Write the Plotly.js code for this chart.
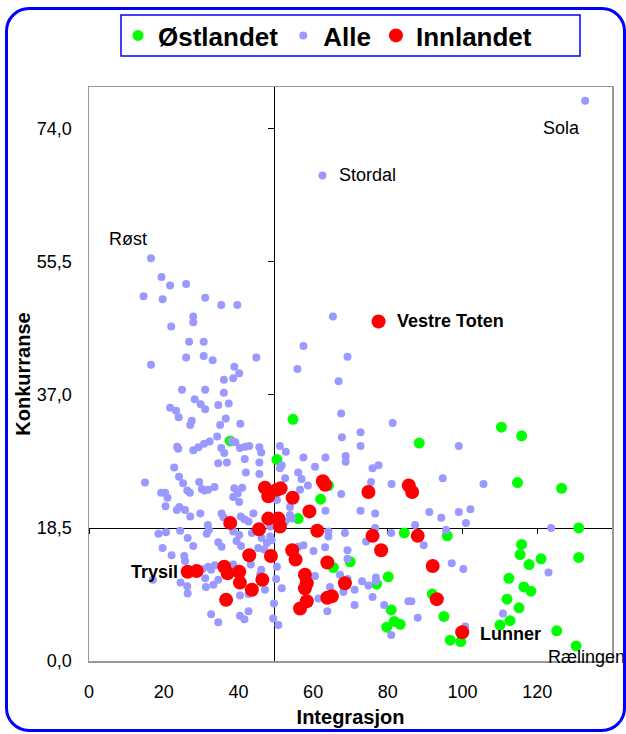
<!DOCTYPE html>
<html><head><meta charset="utf-8">
<script src="https://cdn.plot.ly/plotly-3.0.1.min.js"></script>
<style>
html,body{margin:0;padding:0;background:#fff;overflow:hidden}
#chart{width:626px;height:734px;position:absolute;left:0;top:0}
#frame{position:absolute;left:5px;top:7px;width:621px;height:725px;box-sizing:border-box;border:3px solid #0000ff;border-radius:24px;pointer-events:none}
</style></head><body>
<div id="chart"></div><div id="frame"></div>
<script>
// ---- data ----
const seriesNames = ['Østlandet', 'Alle', 'Innlandet'];

// Østlandet (first point: Rælingen)
const ostX = [130.4, 110.4, 115.8, 88.4, 114.7, 126.5, 84.4, 95.9, 131.1, 115.8, 115.4, 121.0, 117.8, 131.1, 69.9, 80.1, 77.0, 112.4, 116.4, 118.3, 91.9, 111.9, 115.1, 80.9, 95.0, 81.7, 83.3, 79.7, 112.7, 110.0, 125.2, 96.7, 99.5,
  54.6, 37.8, 50.3, 62.0, 64.1, 56.0, 65.4];
const ostY = [2.1, 32.5, 31.3, 30.3, 24.8, 24.0, 17.8, 17.4, 18.5, 16.2, 14.8, 14.2, 13.4, 14.4, 13.8, 11.7, 10.7, 11.5, 10.3, 9.7, 9.3, 8.6, 7.4, 7.1, 6.2, 5.5, 5.1, 4.7, 5.6, 5.0, 4.2, 2.9, 2.7,
  33.6, 30.6, 28.0, 22.5, 24.4, 19.8, 13.0];

// Alle (first points: Sola, Stordal, Røst)
const alleX = [132.8, 62.5, 16.6, 78.3, 69.2, 66.8,
  19.4, 21.7, 26.0, 14.6, 19.7, 31.1, 35.4, 39.7,
  27.9, 27.9, 22.0, 65.3, 26.8, 30.7, 57.4, 16.6, 26.0, 30.7, 33.1, 44.8, 38.9, 40.2, 38.6, 36.1, 55.8,
  24.9, 31.1, 36.1, 28.3, 29.9, 31.1, 34.6, 37.4, 21.7, 23.3, 24.0, 27.5, 27.1, 36.6, 35.1, 40.5, 67.5,
  34.3, 23.6, 23.9, 27.9, 29.3, 30.8, 32.3, 35.4, 36.2, 38.2, 39.2, 40.4, 41.8, 42.9, 45.6, 46.1, 51.1, 52.7, 67.7,
  34.6, 36.9, 41.7, 45.6, 22.8, 24.1, 25.2, 27.0, 29.5, 30.2, 30.9, 31.9, 33.6, 26.3, 15.0, 19.3, 20.4, 21.0, 20.5,
  24.2, 23.5, 25.7, 27.1, 29.8, 42.0, 45.6, 38.9, 39.8, 41.0, 38.6, 40.2, 35.5, 36.0, 40.6, 44.0, 50.3, 52.5, 51.1,
  51.6, 57.4, 60.5, 63.3, 56.0, 56.9, 58.6, 53.8, 53.8, 56.5, 63.3,
  81.3, 72.7, 72.7, 99.0, 68.7, 68.7, 77.5, 75.9, 94.7, 75.5, 81.0, 105.6, 67.5, 72.7, 76.6, 91.1, 94.3, 99.0, 102.1,
  100.9, 76.6, 87.3, 68.5, 80.9, 95.6, 123.7, 74.2, 89.6, 69.2, 69.2, 97.1, 100.2, 123.0, 67.2, 69.2, 73.1, 76.8, 76.8,
  74.8, 68.1, 71.1, 75.9, 71.1, 79.0, 85.5, 86.3, 88.0, 80.9, 100.7, 110.8,
  18.6, 20.6, 24.4, 26.4, 27.9, 19.7, 22.1, 25.5, 25.7, 31.8, 32.1, 31.5, 34.6, 35.5, 38.6, 39.5, 40.7, 40.2, 43.6,
  44.9, 46.2, 47.6, 48.9, 45.3, 41.6, 42.7, 31.9, 32.7, 33.7, 30.4, 31.1, 31.3, 33.3, 34.6, 17.1, 24.5, 26.3, 26.4,
  38.6, 43.3, 46.1, 45.8, 47.1, 40.4, 42.7, 50.3, 50.1, 51.6, 49.5, 49.3, 50.7, 32.7, 34.6, 40.4, 41.6, 42.7, 48.5,
  48.5, 52.5, 54.3, 56.0, 57.4, 60.1, 60.5, 63.2, 64.1, 64.1, 64.5, 63.8, 61.4, 46.9];
const alleY = [77.9, 67.5, 56.0, 47.3, 42.3, 38.9,
  53.4, 52.2, 52.4, 50.7, 50.3, 50.5, 49.5, 49.5,
  47.9, 47.1, 46.5, 47.9, 44.4, 44.4, 43.8, 41.2, 42.2, 42.4, 41.8, 42.2, 40.9, 40.0, 39.3, 39.1, 40.6,
  37.7, 37.7, 37.3, 36.4, 35.7, 35.0, 35.6, 35.8, 35.2, 34.8, 33.9, 33.4, 32.8, 33.7, 32.8, 33.0, 34.4,
  31.2, 29.8, 29.5, 29.3, 29.7, 30.2, 30.5, 29.6, 28.9, 30.6, 30.4, 29.6, 29.8, 29.9, 29.7, 29.0, 29.9, 29.1, 31.1,
  27.5, 27.6, 28.1, 27.6, 26.9, 25.6, 24.7, 23.4, 24.9, 23.9, 23.7, 23.8, 24.2, 23.7, 24.8, 23.4, 23.4, 22.7, 21.5,
  21.4, 21.0, 21.0, 20.1, 20.5, 26.2, 26.0, 24.0, 23.3, 24.1, 22.8, 22.1, 20.5, 20.0, 20.1, 20.5, 22.4, 25.4, 26.8,
  27.2, 28.3, 27.0, 28.3, 26.2, 25.3, 24.4, 21.4, 20.3, 23.8, 20.9,
  33.1, 31.8, 29.9, 29.9, 28.5, 27.7, 27.2, 26.8, 25.4, 24.9, 24.6, 24.6, 23.2, 20.9, 20.5, 20.7, 19.9, 20.7, 21.1,
  19.2, 18.5, 18.9, 17.8, 17.8, 18.2, 18.5, 16.6, 16.1, 15.4, 14.2, 13.6, 12.8, 12.3, 12.0, 11.4, 11.1, 11.6, 11.1,
  10.5, 9.6, 9.9, 8.9, 7.8, 7.8, 8.3, 8.3, 6.0, 3.6, 4.8, 6.6,
  17.7, 17.9, 18.1, 17.1, 16.0, 15.7, 14.7, 14.6, 13.9, 18.9, 18.2, 17.7, 16.5, 15.9, 18.0, 16.7, 16.0, 17.5, 17.8,
  18.2, 17.1, 16.4, 16.8, 15.7, 19.7, 19.4, 13.1, 12.7, 13.3, 12.8, 11.5, 10.3, 10.6, 11.3, 11.3, 10.9, 10.4, 9.4,
  13.4, 13.4, 12.7, 12.0, 9.9, 9.1, 9.3, 13.1, 11.4, 10.1, 8.0, 5.9, 5.0, 6.5, 5.4, 6.3, 5.8, 6.9, 18.7,
  17.3, 19.4, 19.8, 15.9, 16.1, 15.3, 11.8, 15.8, 17.3, 18.0, 10.3, 6.9, 8.7, 15.5];

// Innlandet (first points: Vestre Toten, Lunner, Trysil)
const innX = [77.5, 99.9, 26.4,
  74.8, 85.6, 86.5, 75.9, 88.0, 78.2, 92.0, 68.5, 93.1,
  47.1, 48.0, 50.3, 51.3, 54.5, 62.6, 63.2, 59.0,
  37.8, 45.5, 48.0, 51.1, 50.7, 61.1, 42.9, 48.7, 54.4, 55.3, 63.8, 28.8, 36.2, 37.1, 40.2, 40.4, 43.6, 46.4, 36.7,
  57.8, 58.3, 57.8, 58.3, 56.5, 63.8, 65.0];
const innY = [47.2, 4.0, 12.4,
  23.5, 24.4, 23.5, 17.4, 17.4, 15.4, 13.2, 10.8, 8.6,
  24.1, 22.9, 23.8, 24.0, 22.7, 25.0, 24.5, 20.8,
  19.2, 18.3, 19.8, 18.7, 19.8, 18.1, 14.7, 14.6, 15.4, 14.1, 13.7, 12.5, 13.1, 12.2, 12.4, 10.9, 9.9, 11.3, 8.5,
  12.0, 10.8, 10.1, 8.3, 7.3, 8.8, 9.0];

// named points: [name, series, index]
const pointLabels = [
  ['Sola', 'alle', 0], ['Stordal', 'alle', 1], ['Røst', 'alle', 2],
  ['Vestre Toten', 'inn', 0], ['Lunner', 'inn', 1], ['Trysil', 'inn', 2],
  ['Rælingen', 'ost', 0]
];

const xTicks = [0, 20, 40, 60, 80, 100, 120, 140];
const yTicks = [0, 18.5, 37, 55.5, 74];
const xRange = [0, 140];
const yRange = [0, 79.8];
const crossX = 49.4;   // where the vertical axis crosses
const crossY = 18.5;   // where the horizontal axis crosses

// ---- styles ----
const FONT = 'Liberation Sans, Arial, Helvetica, sans-serif';
const labelStyle = {
  'Sola':        {xanchor: 'right', xshift: -3,  yshift: -27, bold: false},
  'Stordal':     {xanchor: 'left',  xshift: 15,  yshift: 0,   bold: false},
  'Røst':        {xanchor: 'right', xshift: -2,  yshift: 19,  bold: false},
  'Vestre Toten':{xanchor: 'left',  xshift: 16,  yshift: 0,   bold: true},
  'Lunner':      {xanchor: 'left',  xshift: 16,  yshift: -2,  bold: true},
  'Trysil':      {xanchor: 'right', xshift: -8,  yshift: 0,   bold: true},
  'Rælingen':    {xanchor: 'left',  xshift: -30, yshift: -11, bold: false}
};
const seriesData = {ost: [ostX, ostY], alle: [alleX, alleY], inn: [innX, innY]};

const traces = [
  {type: 'scatter', mode: 'markers', name: seriesNames[0], x: ostX, y: ostY,
   marker: {color: '#00ff00', size: 11, line: {width: 0}}, cliponaxis: false},
  {type: 'scatter', mode: 'markers', name: seriesNames[1], x: alleX, y: alleY,
   marker: {color: '#9999ff', size: 8, line: {width: 0}}, cliponaxis: false},
  {type: 'scatter', mode: 'markers', name: seriesNames[2], x: innX, y: innY,
   marker: {color: '#ff0000', size: 14, line: {width: 0}}, cliponaxis: false},
  {type: 'scatter', mode: 'markers', x: [null], y: [null], xaxis: 'x2', yaxis: 'y2',
   showlegend: false, hoverinfo: 'skip'}
];

const annotations = pointLabels.map(([name, s, i]) => {
  const st = labelStyle[name];
  return {
    x: seriesData[s][0][i], y: seriesData[s][1][i], xref: 'x', yref: 'y',
    text: name, showarrow: false, xanchor: st.xanchor, yanchor: 'middle',
    xshift: st.xshift, yshift: st.yshift,
    font: {family: FONT, size: 18, color: '#000', weight: st.bold ? 700 : 400}
  };
});

const plotL = 89, plotR = 612, plotT = 87, plotB = 661;
const W = 626, H = 734;
const px2paperX = p => (p - plotL) / (plotR - plotL);
const px2paperY = p => (plotB - p) / (plotB - plotT);

const layout = {
  width: W, height: H,
  margin: {l: plotL, r: W - plotR, t: plotT, b: H - plotB, pad: 0},
  paper_bgcolor: '#ffffff', plot_bgcolor: '#ffffff',
  separators: ', ',
  font: {family: FONT, color: '#000'},
  showlegend: true,
  legend: {orientation: 'h', x: px2paperX(118), xanchor: 'left', y: px2paperY(12), yanchor: 'top',
           font: {family: FONT, size: 26, color: '#000', weight: 700},
           bgcolor: 'rgba(0,0,0,0)', borderwidth: 0, traceorder: 'normal'},
  xaxis: {range: xRange, tickvals: xTicks, showline: true, mirror: true, linecolor: '#999999', linewidth: 1.5,
          ticks: 'outside', ticklen: 14, tickcolor: 'rgba(0,0,0,0)', showgrid: false, zeroline: false,
          tickfont: {family: FONT, size: 18, color: '#000'},
          title: {text: 'Integrasjon', font: {family: FONT, size: 20, color: '#000', weight: 700}, standoff: 9}},
  yaxis: {range: yRange, tickvals: yTicks, tickformat: '.1f', showline: true, mirror: true, linecolor: '#999999', linewidth: 1.5,
          ticks: 'outside', ticklen: 12, tickcolor: 'rgba(0,0,0,0)', showgrid: false, zeroline: false,
          tickfont: {family: FONT, size: 18, color: '#000'},
          title: {text: 'Konkurranse', font: {family: FONT, size: 20, color: '#000', weight: 700}, standoff: 1}},
  xaxis2: {overlaying: 'x', range: xRange, anchor: 'free', position: (crossY - yRange[0]) / (yRange[1] - yRange[0]),
           side: 'bottom', showline: true, linecolor: '#000', linewidth: 1, ticks: 'outside', ticklen: 5,
           tickcolor: '#000', tickwidth: 1, tickvals: xTicks, showticklabels: false, showgrid: false,
           zeroline: false, layer: 'below traces'},
  yaxis2: {overlaying: 'y', range: yRange, anchor: 'free', position: (crossX - xRange[0]) / (xRange[1] - xRange[0]),
           side: 'left', showline: true, linecolor: '#000', linewidth: 1, ticks: 'outside', ticklen: 6,
           tickcolor: '#000', tickwidth: 1, tickvals: yTicks, showticklabels: false, showgrid: false,
           zeroline: false, layer: 'below traces'},
  shapes: [
    {type: 'rect', xref: 'paper', yref: 'paper', x0: px2paperX(121), x1: px2paperX(580),
     y0: px2paperY(56), y1: px2paperY(15), line: {color: '#0000ff', width: 1.5}, fillcolor: 'rgba(0,0,0,0)'}
  ],
  annotations: annotations
};

Plotly.newPlot('chart', traces, layout, {displayModeBar: false, staticPlot: true});
</script></body></html>
